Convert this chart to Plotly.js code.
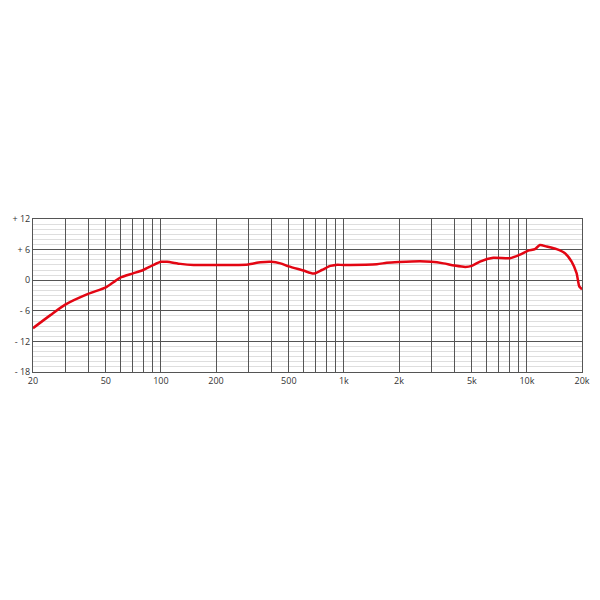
<!DOCTYPE html>
<html>
<head>
<meta charset="utf-8">
<script src="https://cdn.plot.ly/plotly-3.0.1.min.js"></script>
<style>
  html, body { margin: 0; padding: 0; background: #fff; }
  #chart { width: 600px; height: 600px; }
</style>
</head>
<body>
<div id="chart"></div>
<script>
// frequency response (Hz / dB)
const freq = [20, 25, 30, 40, 50, 55, 60, 70, 80, 90, 100, 108, 128, 151, 200, 250, 300, 350, 400, 450, 500, 600, 682, 758, 842, 900, 1000, 1513, 1714, 2000, 2600, 3000, 3500, 4000, 4600, 5000, 5540, 6550, 8080, 9160, 10170, 11060, 11780, 12820, 14530, 16140, 17550, 18680, 19320, 19900, 20000];
const level = [-9.4, -6.8, -4.8, -2.7, -1.4, -0.4, 0.5, 1.3, 2.0, 2.9, 3.6, 3.6, 3.2, 3.0, 3.0, 3.0, 3.1, 3.5, 3.6, 3.3, 2.7, 1.9, 1.3, 2.0, 2.8, 3.0, 3.0, 3.15, 3.4, 3.55, 3.7, 3.6, 3.3, 2.9, 2.6, 2.8, 3.65, 4.4, 4.3, 5.0, 5.8, 6.1, 6.9, 6.6, 6.1, 5.3, 3.65, 1.4, -1.2, -1.7, -1.8];

// vertical grid: every 1..9 step of each decade
const gridFreqs = [20, 30, 40, 50, 60, 70, 80, 90, 100, 200, 300, 400, 500, 600, 700, 800, 900, 1000, 2000, 3000, 4000, 5000, 6000, 7000, 8000, 9000, 10000, 20000];
const gridLabels = ['20', '', '', '50', '', '', '', '', '100', '200', '', '', '500', '', '', '', '', '1k', '2k', '', '', '5k', '', '', '', '', '10k', '20k'];

const dbTicks = [-18, -12, -6, 0, 6, 12];
const dbLabels = ['- 18', '- 12', '- 6', '0', '+ 6', '+ 12'];

const data = [{
  x: freq,
  y: level,
  mode: 'lines',
  line: {color: '#e30613', width: 2.5, shape: 'spline', smoothing: 0.6},
  hoverinfo: 'skip'
}];

const layout = {
  width: 600,
  height: 600,
  showlegend: false,
  paper_bgcolor: '#ffffff',
  plot_bgcolor: '#ffffff',
  margin: {l: 33, r: 18, t: 219, b: 228},
  font: {family: 'Open Sans', size: 9, color: '#333'},
  xaxis: {
    type: 'log',
    range: [Math.log10(20), Math.log10(20000)],
    tickvals: gridFreqs,
    ticktext: gridLabels,
    showgrid: true,
    gridcolor: '#555',
    gridwidth: 1,
    showline: true,
    mirror: true,
    linecolor: '#555',
    linewidth: 1,
    ticks: '',
    zeroline: false,
    fixedrange: true
  },
  yaxis: {
    range: [-18, 12],
    tickvals: dbTicks,
    ticktext: dbLabels,
    showgrid: true,
    gridcolor: '#555',
    gridwidth: 1,
    minor: {dtick: 1, showgrid: true, gridcolor: '#dedede', gridwidth: 1, ticks: ''},
    showline: true,
    mirror: true,
    linecolor: '#555',
    linewidth: 1,
    ticks: '',
    zeroline: false,
    fixedrange: true
  }
};

Plotly.newPlot('chart', data, layout, {displayModeBar: false, staticPlot: true});
</script>
</body>
</html>
